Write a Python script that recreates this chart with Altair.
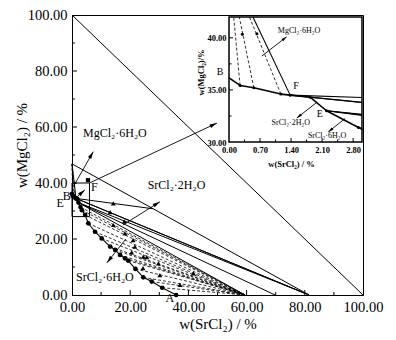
import math
import altair as alt
import pandas as pd

FONT = "Liberation Serif"

# ---------------- data ----------------
# solid phases: MgCl2·6H2O, SrCl2·2H2O, SrCl2·6H2O  (w(SrCl2) %, w(MgCl2) %)
SOLID_X = [0.0, 81.48, 59.46]
SOLID_Y = [46.83, 0.0, 0.0]

# anhydrous (MgCl2-SrCl2) side line
ANHYD_X = [0.0, 100.0]
ANHYD_Y = [100.0, 0.0]

# liquid (solubility) curve  B -> F -> E -> A
CURVE_X = [0.0, 0.25, 0.56, 1.17, 1.38, 1.83, 2.20, 2.92, 3.40, 4.50, 5.60, 7.90,
           10.2, 13.1, 14.8, 16.5, 18.2, 19.3, 21.8, 24.5, 27.4, 31.0, 35.8]
CURVE_Y = [36.16, 35.43, 35.20, 34.60, 34.50, 34.30, 33.00, 31.40, 30.30, 28.60, 25.60, 22.60,
           20.2, 17.3, 16.1, 14.3, 13.1, 12.3, 9.3, 6.3, 4.8, 2.6, 0.0]
I_F, I_E = 4, 6
MG_TIE_LIQ = [1, 2, 3]            # liquids tied to MgCl2·6H2O (dashed)
S2_TIE_LIQ = [4, 5, 6]            # liquids tied to SrCl2·2H2O (solid)
S6_TIE_LIQ = list(range(7, 22))   # liquids tied to SrCl2·6H2O (dashed)

# wet-residue guide lines of invariant points F and E (end points)
WR_END_X = [27.8, 69.8]
WR_END_Y = [30.8, 0.0]

# wet residues (triangles) and one square
TRI_X = [13.1, 18.0, 14.2, 14.2, 18.2, 21.0, 21.6, 20.5, 24.5, 25.7, 24.4, 29.7, 30.2, 37.1, 41.7]
TRI_Y = [29.6, 26.3, 32.7, 25.0, 22.0, 19.6, 17.3, 15.2, 13.7, 13.5, 9.6, 11.3, 7.1, 3.6, 7.7]
SQ_X = [5.5]
SQ_Y = [41.0]

# zoom box
BOX_X = [0.0, 6.0]
BOX_Y = [28.0, 40.0]

# arrows: tail -> head
ARR_X1 = [0.45, 17.5, 18.5, 6.0, 1.4]
ARR_Y1 = [38.7, 25.0, 20.0, 40.0, 34.8]
ARR_X2 = [7.3, 30.2, 12.0, 49.8, 4.4]
ARR_Y2 = [51.2, 33.3, 11.5, 61.4, 37.5]

LABEL_TEXT = ["MgCl₂·6H₂O", "SrCl₂·2H₂O", "SrCl₂·6H₂O"]
LABEL_X = [3.8, 26.0, 1.4]
LABEL_Y = [57.8, 39.3, 6.5]

PT_TEXT = ["A", "B", "E", "F"]
PT_X = [33.6, -1.8, -4.1, 7.7]
PT_Y = [-1.0, 35.4, 32.9, 38.7]

AXIS_VALUES = [0, 20, 40, 60, 80, 100]
MINOR_VALUES = [10, 30, 50, 70, 90]

# ---- inset ----
INSET_XDOM = [0.0, 3.0]
INSET_YDOM = [30.0, 42.0]
INSET_XVALUES = [0.0, 0.7, 1.4, 2.1, 2.8]
INSET_XMINOR = [0.35, 1.05, 1.75, 2.45]
INSET_YVALUES = [30.0, 35.0, 40.0]
INSET_YMINOR = [32.5, 37.5]
IWR_X = [0.30, 0.63]
IWR_Y = [40.35, 40.4]
IARR_X1 = [0.74, 1.98, 2.62]
IARR_Y1 = [38.25, 33.8, 32.26]
IARR_X2 = [1.30, 1.53, 2.24]
IARR_Y2 = [40.1, 32.3, 30.97]
ILABEL_X = [1.10, 0.96, 1.78]
ILABEL_Y = [40.7, 31.8, 30.55]
IPT_TEXT = ["B", "F", "E"]
IPT_X = [-0.2, 1.51, 2.05]
IPT_Y = [36.7, 35.4, 32.7]

# ---------------- layout ----------------
W, H = 291, 280
PAD = {"left": 72, "top": 15, "right": 33, "bottom": 45}
INSET_XRANGE = [157, 290]
INSET_YRANGE = [127, 2]
KX, KY = W / 100.0, H / 100.0
IKX = (INSET_XRANGE[1] - INSET_XRANGE[0]) / (INSET_XDOM[1] - INSET_XDOM[0])
IKY = (INSET_YRANGE[0] - INSET_YRANGE[1]) / (INSET_YDOM[1] - INSET_YDOM[0])
ARROW_PATH = "M0,0L0.5,1.9L-0.5,1.9Z"


def head_angle(x1, y1, x2, y2, kx, ky):
    dxp = (x2 - x1) * kx
    dyp = -(y2 - y1) * ky
    return math.degrees(math.atan2(dxp, -dyp)) % 360


def clip(seg, xmin, xmax, ymin, ymax):
    x0, y0, x1, y1 = seg
    dx, dy = x1 - x0, y1 - y0
    t0, t1 = 0.0, 1.0
    for p, q in ((-dx, x0 - xmin), (dx, xmax - x0), (-dy, y0 - ymin), (dy, ymax - y0)):
        if p == 0:
            if q < 0:
                return None
        else:
            t = q / p
            if p < 0:
                if t > t1:
                    return None
                t0 = max(t0, t)
            else:
                if t < t0:
                    return None
                t1 = min(t1, t)
    return (x0 + t0 * dx, y0 + t0 * dy, x0 + t1 * dx, y0 + t1 * dy)


def rdf(segs):
    return pd.DataFrame(list(segs), columns=["x", "y", "x2", "y2"])


MG = (SOLID_X[0], SOLID_Y[0])
S2 = (SOLID_X[1], SOLID_Y[1])
S6 = (SOLID_X[2], SOLID_Y[2])
P = lambda i: (CURVE_X[i], CURVE_Y[i])

solid = [(ANHYD_X[0], ANHYD_Y[0], ANHYD_X[1], ANHYD_Y[1]),
         MG + S2,
         P(I_F) + MG]
solid += [P(i) + S2 for i in S2_TIE_LIQ]
solid += [P(I_E) + S6,
          P(I_F) + (WR_END_X[0], WR_END_Y[0]),
          P(I_E) + (WR_END_X[1], WR_END_Y[1])]
dashed = [P(i) + MG for i in MG_TIE_LIQ] + [P(i) + S6 for i in S6_TIE_LIQ]
curve_segs = [P(i) + P(i + 1) for i in range(len(CURVE_X) - 1)]

# ---------------- scales & axes ----------------
mx_scale = alt.Scale(domain=[0, 100], nice=False, zero=False)
my_scale = alt.Scale(domain=[0, 100], nice=False, zero=False)
common_ax = dict(format=".2f", ticks=False, grid=False, labelFlush=False, labelOverlap=False,
                 labelFont=FONT, labelFontSize=14.5, labelColor="black", domainColor="black",
                 titleFont=FONT, titleFontSize=15, titleFontWeight="normal", titleColor="black")
mx_axis = alt.Axis(values=AXIS_VALUES, labelPadding=5, title="w(SrCl₂) / %", titlePadding=3, **common_ax)
my_axis = alt.Axis(values=AXIS_VALUES, labelPadding=5, title="w(MgCl₂) / %",
                   titleX=-51, titleY=130, titleAngle=270, titleBaseline="middle", **common_ax)
XM = alt.X("x:Q", scale=mx_scale, axis=mx_axis)
YM = alt.Y("y:Q", scale=my_scale, axis=my_axis)

ix_scale = alt.Scale(domain=INSET_XDOM, range=INSET_XRANGE, nice=False, zero=False)
iy_scale = alt.Scale(domain=INSET_YDOM, range=INSET_YRANGE, nice=False, zero=False)
icommon = dict(format=".2f", ticks=False, domain=False, grid=False, labelFlush=False, labelOverlap=False,
               labelFont=FONT, labelFontSize=8.5, labelFontWeight="bold", labelColor="black",
               titleFont=FONT, titleFontSize=8.5, titleFontWeight="bold", titleColor="black",
               titleBaseline="middle")
ix_axis = alt.Axis(orient="bottom", offset=-(H - INSET_YRANGE[0]), values=INSET_XVALUES,
                   labelPadding=3, title="w(SrCl₂) / %", titleX=219, titleY=21, **icommon)
iy_axis = alt.Axis(orient="left", offset=-INSET_XRANGE[0], values=INSET_YVALUES,
                   labelPadding=3, title="w(MgCl₂)/%", titleX=-29, titleY=57, titleAngle=270, **icommon)
XI = alt.X("x:Q", scale=ix_scale, axis=ix_axis)
YI = alt.Y("y:Q", scale=iy_scale, axis=iy_axis)


def rules(df, X, Y, **mk):
    return alt.Chart(df).mark_rule(color="black", **mk).encode(x=X, y=Y, x2="x2:Q", y2="y2:Q")


def arrows(x1, y1, x2, y2, X, Y, kx, ky, size):
    segs = rdf(zip(x1, y1, x2, y2))
    heads = pd.DataFrame({"x": x2, "y": y2,
                          "ang": [head_angle(a, b, c, d, kx, ky) for a, b, c, d in zip(x1, y1, x2, y2)]})
    line = rules(segs, X, Y, strokeWidth=0.9)
    head = alt.Chart(heads).mark_point(shape=ARROW_PATH, filled=True, color="black", opacity=1,
                                       size=size, strokeWidth=0).encode(
        x=X, y=Y, angle=alt.Angle("ang:Q", scale=None))
    return [line, head]


def texts(t, x, y, X, Y, size, align):
    df = pd.DataFrame({"x": x, "y": y, "t": t})
    return alt.Chart(df).mark_text(font=FONT, fontSize=size, align=align, baseline="middle",
                                   color="black").encode(x=X, y=Y, text="t:N")


# ---------------- main layers ----------------
tmaj, tmin = 5, 3
main_ticks = ([(v, 0, v, tmaj / KY) for v in AXIS_VALUES[1:-1]] +
              [(v, 0, v, tmin / KY) for v in MINOR_VALUES] +
              [(0, v, tmaj / KX, v) for v in AXIS_VALUES[1:-1]] +
              [(0, v, tmin / KX, v) for v in MINOR_VALUES])

curve_df = pd.DataFrame({"x": CURVE_X, "y": CURVE_Y, "o": list(range(len(CURVE_X)))})
main_layers = [
    rules(rdf(solid), XM, YM, strokeWidth=1),
    rules(rdf(dashed), XM, YM, strokeWidth=0.8, strokeDash=[3, 2]),
    alt.Chart(curve_df).mark_line(color="black", strokeWidth=1.1).encode(x=XM, y=YM, order="o:Q"),
    alt.Chart(curve_df).mark_point(shape="circle", filled=True, color="black", opacity=1, size=22).encode(x=XM, y=YM),
    alt.Chart(pd.DataFrame({"x": TRI_X, "y": TRI_Y})).mark_point(
        shape="triangle-up", filled=True, color="black", opacity=1, size=24).encode(x=XM, y=YM),
    alt.Chart(pd.DataFrame({"x": SQ_X, "y": SQ_Y})).mark_point(
        shape="square", filled=True, color="black", opacity=1, size=18).encode(x=XM, y=YM),
    alt.Chart(pd.DataFrame({"x": [BOX_X[0]], "x2": [BOX_X[1]], "y": [BOX_Y[0]], "y2": [BOX_Y[1]]}))
    .mark_rect(fillOpacity=0, stroke="black", strokeWidth=1).encode(x=XM, y=YM, x2="x2:Q", y2="y2:Q"),
    rules(rdf(main_ticks), XM, YM, strokeWidth=1),
]
main_layers += arrows(ARR_X1, ARR_Y1, ARR_X2, ARR_Y2, XM, YM, KX, KY, 60)
main_layers += [texts(LABEL_TEXT, LABEL_X, LABEL_Y, XM, YM, 12, "left"),
                texts(PT_TEXT, PT_X, PT_Y, XM, YM, 12, "center")]
main = alt.layer(*main_layers)

# ---------------- inset layers ----------------
box = (INSET_XDOM[0], INSET_XDOM[1], INSET_YDOM[0], INSET_YDOM[1])
i_solid = [s for s in (clip(g, *box) for g in solid) if s]
i_dashed = [s for s in (clip(g, *box) for g in dashed) if s]
i_curve = [s for s in (clip(g, *box) for g in curve_segs) if s]
i_pts = pd.DataFrame({"x": CURVE_X, "y": CURVE_Y})
i_pts = i_pts[(i_pts.x > INSET_XDOM[0]) & (i_pts.x <= INSET_XDOM[1]) & (i_pts.y >= INSET_YDOM[0])]

itmaj, itmin = 4, 2.5
i_ticks = ([(v, INSET_YDOM[0], v, INSET_YDOM[0] + itmaj / IKY) for v in INSET_XVALUES[1:]] +
           [(v, INSET_YDOM[0], v, INSET_YDOM[0] + itmin / IKY) for v in INSET_XMINOR] +
           [(INSET_XDOM[0], v, INSET_XDOM[0] + itmaj / IKX, v) for v in INSET_YVALUES[1:]] +
           [(INSET_XDOM[0], v, INSET_XDOM[0] + itmin / IKX, v) for v in INSET_YMINOR])

inset_layers = [
    alt.Chart(pd.DataFrame({"x": [INSET_XDOM[0]], "x2": [INSET_XDOM[1]],
                            "y": [INSET_YDOM[0]], "y2": [INSET_YDOM[1]]}))
    .mark_rect(fill="white", stroke="black", strokeWidth=1.5).encode(x=XI, y=YI, x2="x2:Q", y2="y2:Q"),
    rules(rdf(i_solid), XI, YI, strokeWidth=1.1),
    rules(rdf(i_dashed), XI, YI, strokeWidth=0.8, strokeDash=[3, 2]),
    rules(rdf(i_curve), XI, YI, strokeWidth=1.6, strokeCap="round"),
    alt.Chart(i_pts).mark_point(shape="circle", filled=True, color="black", opacity=1, size=9).encode(x=XI, y=YI),
    alt.Chart(pd.DataFrame({"x": IWR_X, "y": IWR_Y})).mark_point(
        shape="circle", filled=True, color="black", opacity=1, size=9).encode(x=XI, y=YI),
    rules(rdf(i_ticks), XI, YI, strokeWidth=1),
]
inset_layers += arrows(IARR_X1, IARR_Y1, IARR_X2, IARR_Y2, XI, YI, IKX, IKY, 32)
inset_layers += [texts(LABEL_TEXT, ILABEL_X, ILABEL_Y, XI, YI, 8, "left"),
                 texts(IPT_TEXT, IPT_X, IPT_Y, XI, YI, 10, "center")]
inset = alt.layer(*inset_layers)

chart = (alt.layer(main, inset)
         .resolve_scale(x="independent", y="independent")
         .resolve_axis(x="independent", y="independent")
         .properties(width=W, height=H, padding=PAD, autosize=alt.AutoSizeParams(type="none"),
                     background="white")
         .configure_view(stroke="black", strokeWidth=1))

chart.save("out.html", embed_options={"renderer": "svg", "actions": False})
